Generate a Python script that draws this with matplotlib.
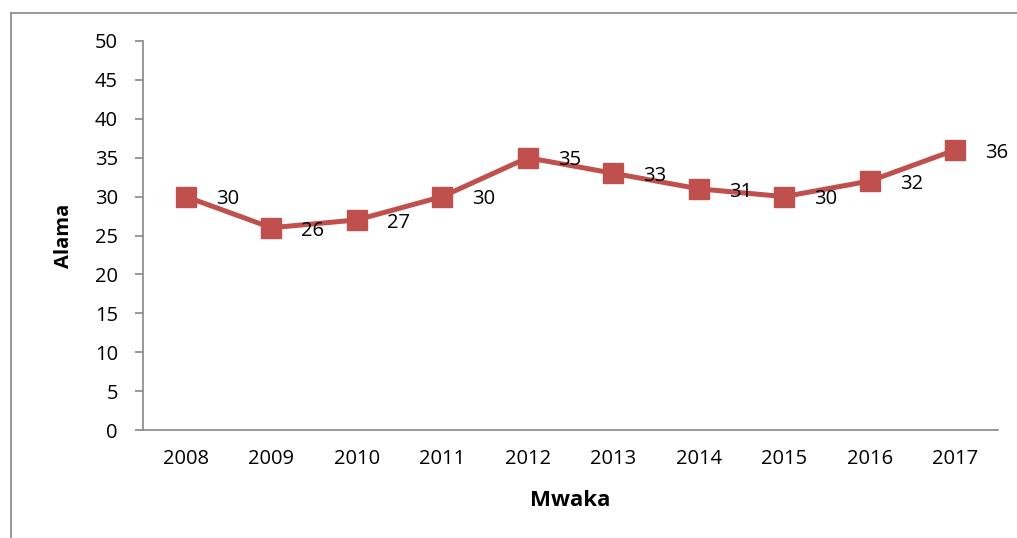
import matplotlib
matplotlib.use("Agg")
import matplotlib.pyplot as plt
from matplotlib.lines import Line2D

anos = ['2008', '2009', '2010', '2011', '2012', '2013', '2014', '2015', '2016', '2017']
alama = [30, 26, 27, 30, 35, 33, 31, 30, 32, 36]

cor = '#C0504D'
cinza = '#888888'

plt.rcParams['font.family'] = ['Open Sans', 'DejaVu Sans']

fig = plt.figure(figsize=(10.17, 5.38), dpi=100)
ax = fig.add_axes([0.1406, 0.2007, 0.8407, 0.7231])

x = range(len(anos))
ax.plot(x, alama, color=cor, linewidth=3.6, marker='s', markersize=14,
        markerfacecolor=cor, markeredgecolor=cor)

for i, v in zip(x, alama):
    ax.annotate(str(v), (i, v), xytext=(30, -2), textcoords='offset points',
                ha='center', va='center', fontsize=14.5, color='black')

ax.set_xlim(-0.5, len(anos) - 0.5)
ax.set_ylim(0, 50)
ax.set_yticks(range(0, 51, 5))
ax.set_xticks(list(x))
ax.set_xticklabels(anos)

for s in ['top', 'right']:
    ax.spines[s].set_visible(False)
for s in ['left', 'bottom']:
    ax.spines[s].set_color(cinza)
    ax.spines[s].set_linewidth(1.2)

ax.tick_params(axis='y', length=6, color=cinza, width=1.2, labelsize=14.5, pad=12)
ax.tick_params(axis='x', length=0, labelsize=14.5, pad=14)

ax.set_ylabel('Alama', fontsize=14.5, fontweight='bold', labelpad=15)
ax.set_xlabel('Mwaka', fontsize=16, fontweight='bold', labelpad=15)

# borda da figura
fig.add_artist(Line2D([11/1017, 11/1017], [0, 1 - 13/538], color=cinza, linewidth=1.2))
fig.add_artist(Line2D([11/1017, 1], [1 - 13/538, 1 - 13/538], color=cinza, linewidth=1.2))

fig.savefig('out.png', dpi=100, facecolor='white')
